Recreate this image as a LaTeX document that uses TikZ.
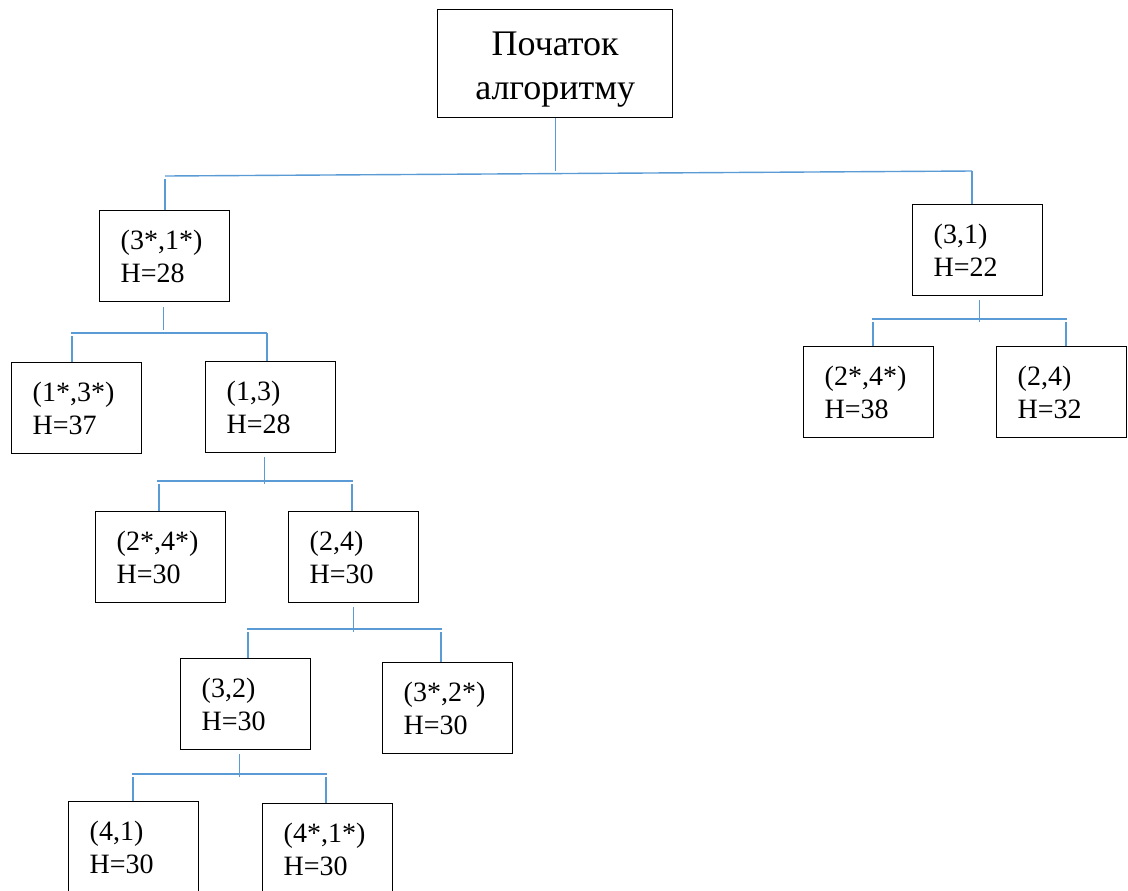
\documentclass[tikz,border=0pt]{standalone}
\usepackage{fontspec}
\setmainfont{Liberation Serif}
\definecolor{linkblue}{RGB}{91,155,213}
\tikzset{
  vbox/.style={draw, line width=0.7pt, anchor=north west, align=left,
    text width=44pt, inner xsep=10.5pt, inner ysep=0pt, minimum height=45.5pt,
    font=\rmfamily\fontsize{14}{16.5}\selectfont},
  link/.style={draw=linkblue, line width=0.7pt},
  stem/.style={link, shorten <=2pt, shorten >=-1.5pt},
  drop/.style={link, shorten <=1.5pt}
}
\begin{document}
\begin{tikzpicture}[x=0.5pt,y=-0.5pt]
\useasboundingbox (0,0) rectangle (1128,890);

% корінь дерева
\node[draw, line width=0.7pt, anchor=north west, minimum width=117.5pt,
  minimum height=54pt, inner sep=0pt, align=center,
  font=\rmfamily\fontsize{18}{22}\selectfont] (start) at (437,9)
  {\rule{0pt}{17.5pt}Початок\\алгоритму};

% вершини
\node[vbox] (A) at (99,210) {(3*,1*)\\H=28};
\node[vbox] (B) at (912,204) {(3,1)\\H=22};
\node[vbox] (C) at (11,362) {(1*,3*)\\H=37};
\node[vbox] (D) at (205,361) {(1,3)\\H=28};
\node[vbox] (E) at (95,511) {(2*,4*)\\H=30};
\node[vbox] (F) at (288,511) {(2,4)\\H=30};
\node[vbox] (G) at (180,658) {(3,2)\\H=30};
\node[vbox] (H) at (382,662) {(3*,2*)\\H=30};
\node[vbox] (I) at (68,801) {(4,1)\\H=30};
\node[vbox] (J) at (262,803) {(4*,1*)\\H=30};
\node[vbox] (K) at (803,346) {(2*,4*)\\H=38};
\node[vbox] (L) at (996,346) {(2,4)\\H=32};

% кінці горизонтальних ліній
\coordinate (S1) at (165,176);
\coordinate (S2) at (972,171);
\coordinate (A1) at (71,333);
\coordinate (A2) at (267,333);
\coordinate (B1) at (872,319);
\coordinate (B2) at (1067,319);
\coordinate (D1) at (157,481);
\coordinate (D2) at (353,481);
\coordinate (F1) at (247,629);
\coordinate (F2) at (442,629);
\coordinate (G1) at (132,774);
\coordinate (G2) at (327,774);

% Початок -> (3*,1*), (3,1)
\draw[link] (start.south) -- (start.south |- S2);
\draw[link] (S1) -- (S2);
\draw[drop] (S1) -- (S1 |- A.north);
\draw[link] (S2) -- (S2 |- B.north);

% (3*,1*) -> (1*,3*), (1,3)
\draw[link, shorten <=2.5pt, shorten >=1.5pt] ([xshift=-0.5pt]A.south) -- ([xshift=-0.5pt]A.south |- A1);
\draw[link] (A1) -- (A2);
\draw[drop] ([xshift=0.5pt]A1) -- ([xshift=0.5pt]A1 |- C.north);
\draw[link] (A2) -- (A2 |- D.north);

% (3,1) -> (2*,4*), (2,4)
\draw[stem] ([xshift=1pt]B.south) -- ([xshift=1pt]B.south |- B1);
\draw[link] (B1) -- (B2);
\draw[drop] ([xshift=0.5pt]B1) -- ([xshift=0.5pt]B1 |- K.north);
\draw[drop] ([xshift=-0.5pt]B2) -- ([xshift=-0.5pt]B2 |- L.north);

% (1,3) -> (2*,4*), (2,4)
\draw[stem] ([xshift=-3pt]D.south) -- ([xshift=-3pt]D.south |- D1);
\draw[link] (D1) -- (D2);
\draw[drop] ([xshift=1pt]D1) -- ([xshift=1pt]D1 |- E.north);
\draw[drop] ([xshift=-0.5pt]D2) -- ([xshift=-0.5pt]D2 |- F.north);

% (2,4) -> (3,2), (3*,2*)
\draw[stem] (F.south) -- (F.south |- F1);
\draw[link] (F1) -- (F2);
\draw[drop] ([xshift=0.5pt]F1) -- ([xshift=0.5pt]F1 |- G.north);
\draw[drop] ([xshift=-0.5pt]F2) -- ([xshift=-0.5pt]F2 |- H.north);

% (3,2) -> (4,1), (4*,1*)
\draw[stem] ([xshift=-3pt]G.south) -- ([xshift=-3pt]G.south |- G1);
\draw[link] (G1) -- (G2);
\draw[drop] ([xshift=0.5pt]G1) -- ([xshift=0.5pt]G1 |- I.north);
\draw[drop] ([xshift=-0.5pt]G2) -- ([xshift=-0.5pt]G2 |- J.north);
\end{tikzpicture}
\end{document}
